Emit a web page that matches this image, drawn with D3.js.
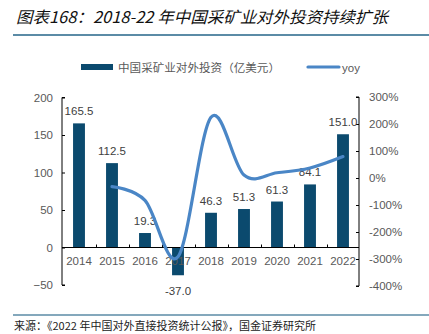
<!DOCTYPE html>
<html><head><meta charset="utf-8">
<script src="https://cdn.jsdelivr.net/npm/d3@7/dist/d3.min.js"></script>
<style>
html,body{margin:0;padding:0;background:#fff;}
svg{display:block;}
</style></head>
<body>
<svg id="c" width="429" height="334"></svg>
<script>
const years = ["2014","2015","2016","2017","2018","2019","2020","2021","2022"];
const invest = [165.5, 112.5, 19.3, -37.0, 46.3, 51.3, 61.3, 84.1, 151.0];
const yoyYears = ["2015","2016","2017","2018","2019","2020","2021","2022"];
const yoy = [-32.0, -82.8, -291.7, 225.1, 10.8, 19.5, 37.2, 79.5];
const leftTicks = [-50, 0, 50, 100, 150, 200];
const rightTicks = [-400, -300, -200, -100, 0, 100, 200, 300];

const svg = d3.select("#c");
const numFont = "'Liberation Sans', Arial, sans-serif";
const cjkFont = "'Noto Sans CJK SC', sans-serif";

// Title
svg.append("text").attr("x", 16).attr("y", 23)
  .attr("font-family", cjkFont).attr("font-size", 16).attr("font-style", "italic")
  .attr("font-weight", "normal").attr("fill", "#111")
  .attr("textLength", 372).attr("lengthAdjust", "spacingAndGlyphs")
  .text("图表168：2018-22 年中国采矿业对外投资持续扩张");
svg.append("line").attr("x1", 13).attr("x2", 429).attr("y1", 35).attr("y2", 35)
  .attr("stroke", "#5b8ba6").attr("stroke-width", 2);

// Scales
const x = d3.scaleBand().domain(years).range([62.5, 359.5]).paddingInner(0.64).paddingOuter(0.32);
const y = d3.scaleLinear().domain([-50, 200]).range([285, 97.5]);
const y2 = d3.scaleLinear().domain([-400, 300]).range([286, 97]);

const barColor = "#0b4a6e";
const lineColor = "#4a86c6";
const axisGray = "#595959";

// Bars
svg.append("g").selectAll("rect").data(invest).join("rect")
  .attr("x", (d, i) => x(years[i]))
  .attr("width", x.bandwidth())
  .attr("y", d => y(Math.max(0, d)))
  .attr("height", d => Math.abs(y(d) - y(0)))
  .attr("fill", barColor);

// Left axis
const gl = svg.append("g").attr("transform", "translate(62,0)")
  .call(d3.axisRight(y).tickValues(leftTicks).tickSize(3).tickFormat(d3.format("d")));
gl.select(".domain").attr("stroke", "#000").attr("d", `M3,${y(-50)}H0V${y(200)}H3`);
gl.selectAll(".tick line").attr("stroke", "#000");
gl.selectAll(".tick text").attr("x", -9).attr("text-anchor", "end")
  .attr("font-family", numFont).attr("font-size", 11.5).attr("fill", axisGray);

// Right axis
const gr = svg.append("g").attr("transform", "translate(359,0)")
  .call(d3.axisLeft(y2).tickValues(rightTicks).tickSize(3).tickFormat(d => d + "%"));
gr.select(".domain").attr("stroke", "#000").attr("d", `M-3,${y2(-400)}H0V${y2(300)}H-3`);
gr.selectAll(".tick line").attr("stroke", "#000");
gr.selectAll(".tick text").attr("x", 10).attr("text-anchor", "start")
  .attr("font-family", numFont).attr("font-size", 11.5).attr("fill", axisGray);

// X axis (at zero)
const gx = svg.append("g").attr("transform", `translate(0,${y(0)})`);
gx.append("line").attr("x1", 62).attr("x2", 359).attr("stroke", "#000").attr("stroke-width", 1);
const bounds = years.slice(1).map(yr => x(yr) - x.step() * x.paddingInner() / 2);
gx.selectAll(".bt").data(bounds).join("line")
  .attr("x1", d => Math.round(d) + 0.5).attr("x2", d => Math.round(d) + 0.5)
  .attr("y1", 0).attr("y2", -3).attr("stroke", "#000");
gx.selectAll("text").data(years).join("text")
  .attr("x", d => x(d) + x.bandwidth() / 2).attr("y", 17)
  .attr("text-anchor", "middle").attr("font-family", numFont).attr("font-size", 11.5)
  .attr("fill", axisGray).text(d => d);

// Bar value labels
svg.append("g").selectAll("text").data(invest).join("text")
  .attr("x", (d, i) => x(years[i]) + x.bandwidth() / 2)
  .attr("y", d => d >= 0 ? y(d) - 8 : y(d) + 20)
  .attr("text-anchor", "middle").attr("font-family", numFont).attr("font-size", 11.5)
  .attr("fill", "#404040").text(d => d.toFixed(1));

// yoy line
const line = d3.line()
  .x((d, i) => x(yoyYears[i]) + x.bandwidth() / 2)
  .y(d => y2(d))
  .curve(d3.curveCardinal.tension(0));
svg.append("path").datum(yoy).attr("d", line)
  .attr("fill", "none").attr("stroke", lineColor).attr("stroke-width", 3.2)
  .attr("stroke-linecap", "round").attr("stroke-linejoin", "round");

// Legend
svg.append("rect").attr("x", 81).attr("y", 64).attr("width", 32).attr("height", 6).attr("fill", barColor);
svg.append("text").attr("x", 118).attr("y", 71.5)
  .attr("font-family", cjkFont).attr("font-size", 11).attr("fill", "#595959")
  .attr("textLength", 162).attr("lengthAdjust", "spacingAndGlyphs")
  .text("中国采矿业对外投资（亿美元）");
svg.append("line").attr("x1", 308).attr("x2", 339).attr("y1", 67).attr("y2", 67)
  .attr("stroke", lineColor).attr("stroke-width", 3.2).attr("stroke-linecap", "round");
svg.append("text").attr("x", 342).attr("y", 71.5)
  .attr("font-family", numFont).attr("font-size", 11.5).attr("fill", "#595959").text("yoy");

// Bottom rule and source
svg.append("line").attr("x1", 13).attr("x2", 429).attr("y1", 315).attr("y2", 315)
  .attr("stroke", "#5b8ba6").attr("stroke-width", 1.5);
svg.append("text").attr("x", 14).attr("y", 330)
  .attr("font-family", cjkFont).attr("font-size", 11).attr("fill", "#222")
  .text("来源：《2022 年中国对外直接投资统计公报》，国金证券研究所");
</script>
</body></html>
